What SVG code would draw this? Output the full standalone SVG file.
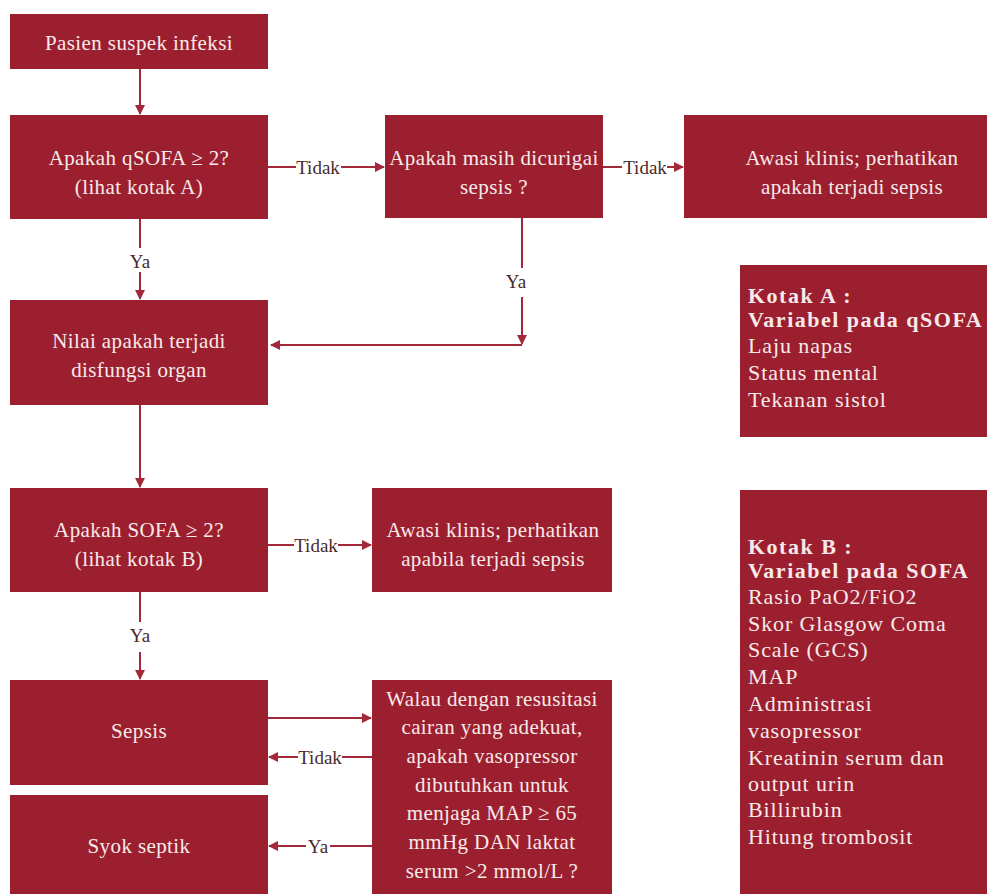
<svg xmlns="http://www.w3.org/2000/svg" width="987" height="894" viewBox="0 0 987 894">
<defs>
<marker id="ah" viewBox="0 0 10 10" refX="9" refY="5" markerWidth="10" markerHeight="10" markerUnits="userSpaceOnUse" orient="auto">
<path d="M0,0 L10,5 L0,10 Z" fill="#a3283a"/>
</marker>
<style>
.box{fill:#9c1f2f;}
.t{font-family:"Liberation Serif","Times New Roman",serif;font-size:21px;letter-spacing:0.4px;fill:#f7eaea;text-anchor:middle;}
.k{font-family:"Liberation Serif","Times New Roman",serif;font-size:22px;letter-spacing:0.9px;fill:#f7eaea;}
.kb{font-weight:bold;letter-spacing:1.5px;}
.c{stroke:#a3283a;stroke-width:2;fill:none;}
.ca{stroke:#a3283a;stroke-width:2;fill:none;marker-end:url(#ah);}
.lbl{font-family:"Liberation Serif","Times New Roman",serif;font-size:19px;fill:#4a2a2a;text-anchor:middle;}
</style>
</defs>
<rect width="987" height="894" fill="#ffffff"/>
<g id="connectors">
<line class="ca" x1="140" y1="69" x2="140" y2="114"/>
<line class="c" x1="268" y1="167" x2="296" y2="167"/>
<line class="ca" x1="341" y1="167" x2="384" y2="167"/>
<text class="lbl" x="318" y="174">Tidak</text>
<line class="c" x1="603" y1="167" x2="622" y2="167"/>
<line class="ca" x1="667" y1="167" x2="683" y2="167"/>
<text class="lbl" x="645" y="174">Tidak</text>
<line class="c" x1="140" y1="219" x2="140" y2="248"/>
<line class="ca" x1="140" y1="272" x2="140" y2="299"/>
<text class="lbl" x="140" y="268">Ya</text>
<line class="c" x1="522" y1="218" x2="522" y2="268"/>
<text class="lbl" x="516" y="288">Ya</text>
<line class="ca" x1="522" y1="297" x2="522" y2="344"/>
<line class="ca" x1="522" y1="345" x2="271" y2="345"/>
<line class="ca" x1="140" y1="405" x2="140" y2="487"/>
<line class="c" x1="268" y1="545" x2="294" y2="545"/>
<line class="ca" x1="338" y1="545" x2="371" y2="545"/>
<text class="lbl" x="316" y="552">Tidak</text>
<line class="c" x1="140" y1="592" x2="140" y2="622"/>
<text class="lbl" x="140" y="642">Ya</text>
<line class="ca" x1="140" y1="652" x2="140" y2="679"/>
<line class="ca" x1="268" y1="718" x2="371" y2="718"/>
<line class="c" x1="372" y1="757" x2="342" y2="757"/>
<line class="ca" x1="298" y1="757" x2="269" y2="757"/>
<text class="lbl" x="320" y="764">Tidak</text>
<line class="c" x1="372" y1="846" x2="330" y2="846"/>
<line class="ca" x1="306" y1="846" x2="269" y2="846"/>
<text class="lbl" x="318" y="853">Ya</text>
</g>
<g id="n1"><rect class="box" x="10" y="14" width="258" height="55"/>
<text class="t" x="139" y="50">Pasien suspek infeksi</text></g>
<g id="n2"><rect class="box" x="10" y="115" width="258" height="104"/>
<text class="t" x="139" y="165">Apakah qSOFA ≥ 2?</text>
<text class="t" x="139" y="194">(lihat kotak A)</text></g>
<g id="n3"><rect class="box" x="385" y="115" width="218" height="103"/>
<text class="t" x="494" y="165">Apakah masih dicurigai</text>
<text class="t" x="494" y="194">sepsis ?</text></g>
<g id="n4"><rect class="box" x="684" y="115" width="303" height="103"/>
<text class="t" x="852" y="165">Awasi klinis; perhatikan</text>
<text class="t" x="852" y="194">apakah  terjadi sepsis</text></g>
<g id="n5"><rect class="box" x="10" y="300" width="258" height="105"/>
<text class="t" x="139" y="348">Nilai apakah terjadi</text>
<text class="t" x="139" y="377">disfungsi organ</text></g>
<g id="n6"><rect class="box" x="10" y="488" width="258" height="104"/>
<text class="t" x="139" y="537">Apakah SOFA ≥ 2?</text>
<text class="t" x="139" y="566">(lihat kotak B)</text></g>
<g id="n7"><rect class="box" x="372" y="488" width="240" height="104"/>
<text class="t" x="493" y="537">Awasi klinis; perhatikan</text>
<text class="t" x="493" y="566">apabila  terjadi sepsis</text></g>
<g id="n8"><rect class="box" x="10" y="680" width="258" height="105"/>
<text class="t" x="139" y="738">Sepsis</text></g>
<g id="n9"><rect class="box" x="10" y="795" width="258" height="99"/>
<text class="t" x="139" y="853">Syok septik</text></g>
<g id="n10"><rect class="box" x="372" y="680" width="240" height="214"/>
<text class="t" x="492" y="706">Walau dengan resusitasi</text>
<text class="t" x="492" y="734">cairan yang adekuat,</text>
<text class="t" x="492" y="763">apakah vasopressor</text>
<text class="t" x="492" y="792">dibutuhkan untuk</text>
<text class="t" x="492" y="820">menjaga MAP ≥ 65</text>
<text class="t" x="492" y="849">mmHg DAN laktat</text>
<text class="t" x="492" y="878">serum &gt;2 mmol/L ?</text></g>
<g id="kotakA"><rect class="box" x="740" y="265" width="247" height="172"/>
<text class="k kb" x="748" y="303">Kotak A :</text>
<text class="k kb" x="748" y="327">Variabel pada qSOFA</text>
<text class="k" x="748" y="353">Laju napas</text>
<text class="k" x="748" y="380">Status mental</text>
<text class="k" x="748" y="407">Tekanan sistol</text></g>
<g id="kotakB"><rect class="box" x="740" y="490" width="247" height="404"/>
<text class="k kb" x="748" y="554">Kotak B :</text>
<text class="k kb" x="748" y="578">Variabel pada SOFA</text>
<text class="k" x="748" y="604">Rasio PaO2/FiO2</text>
<text class="k" x="748" y="631">Skor Glasgow Coma</text>
<text class="k" x="748" y="657">Scale (GCS)</text>
<text class="k" x="748" y="684">MAP</text>
<text class="k" x="748" y="711">Administrasi</text>
<text class="k" x="748" y="738">vasopressor</text>
<text class="k" x="748" y="765">Kreatinin serum dan</text>
<text class="k" x="748" y="791">output urin</text>
<text class="k" x="748" y="817">Billirubin</text>
<text class="k" x="748" y="844">Hitung trombosit</text></g>
</svg>
